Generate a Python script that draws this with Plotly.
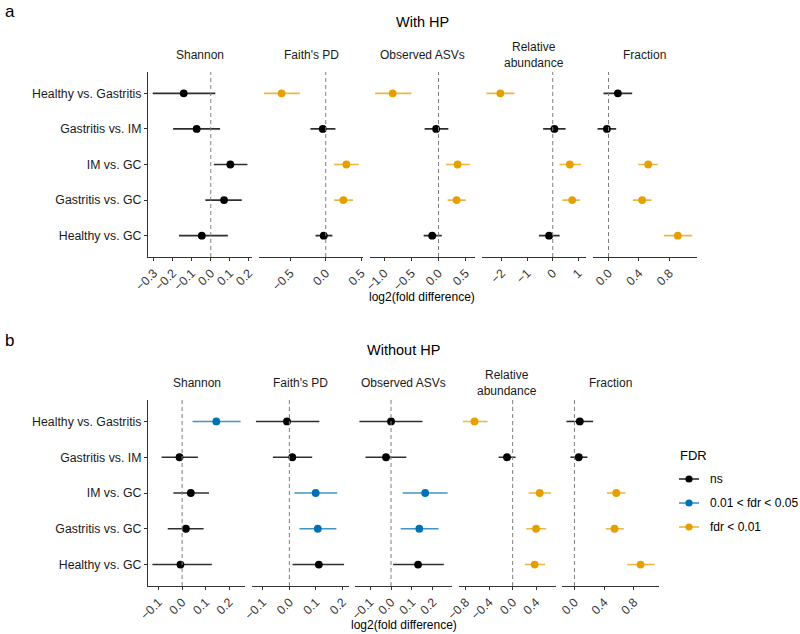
import plotly.graph_objects as go

W, H = 800, 634
FONT = "Liberation Sans, Arial, sans-serif"

# ---------------- data ----------------
comparisons = ["Healthy vs. Gastritis", "Gastritis vs. IM", "IM vs. GC",
               "Gastritis vs. GC", "Healthy vs. GC"]
metrics = ["Shannon", "Faith's PD", "Observed ASVs", "Relative<br>abundance", "Fraction"]
fdr_levels = ["ns", "0.01 < fdr < 0.05", "fdr < 0.01"]
fdr_colors = ["#000000", "#0072B2", "#E69F00"]
fdr_line_colors = ["rgba(0,0,0,0.82)", "rgba(0,114,178,0.75)", "rgba(230,159,0,0.75)"]

panel_titles = ["With HP", "Without HP"]
panel_letters = ["a", "b"]
x_title = "log2(fold difference)"

# Panel a: With HP  (rows = metrics, cols = comparisons)
a_est = [[-0.142, -0.074, 0.103, 0.070, -0.047],
         [-0.624, -0.042, 0.291, 0.249, -0.028],
         [-0.846, -0.043, 0.353, 0.335, -0.116],
         [-2.05, 0.066, 0.67, 0.763, -0.143],
         [0.123, -0.021, 0.521, 0.442, 0.91]]
a_lo = [[-0.305, -0.198, 0.016, -0.028, -0.167],
        [-0.873, -0.216, 0.117, 0.117, -0.145],
        [-1.17, -0.256, 0.14, 0.17, -0.274],
        [-2.6, -0.376, 0.26, 0.376, -0.54],
        [-0.066, -0.144, 0.39, 0.32, 0.726]]
a_hi = [[0.024, 0.049, 0.193, 0.163, 0.09],
        [-0.366, 0.137, 0.465, 0.385, 0.094],
        [-0.5, 0.183, 0.58, 0.506, 0.06],
        [-1.5, 0.504, 1.11, 1.06, 0.27],
        [0.311, 0.101, 0.648, 0.564, 1.1]]
a_fdr = [[0, 0, 0, 0, 0],
         [2, 0, 2, 2, 0],
         [2, 0, 2, 2, 0],
         [2, 0, 2, 2, 0],
         [0, 0, 2, 2, 2]]
a_ticks = [[-0.3, -0.2, -0.1, 0.0, 0.1, 0.2],
           [-0.5, 0.0, 0.5],
           [-1.0, -0.5, 0.0, 0.5],
           [-2, -1, 0, 1],
           [0.0, 0.4, 0.8]]
a_tickfmt = [".1f", ".1f", ".1f", "d", ".1f"]

# Panel b: Without HP
b_est = [[0.145, -0.011, 0.037, 0.016, -0.007],
         [-0.009, 0.011, 0.099, 0.107, 0.111],
         [0.0, -0.024, 0.163, 0.135, 0.129],
         [-0.65, -0.096, 0.462, 0.4, 0.376],
         [0.072, 0.058, 0.562, 0.539, 0.889]]
b_lo = [[0.044, -0.087, -0.037, -0.061, -0.126],
        [-0.126, -0.062, 0.019, 0.038, 0.012],
        [-0.151, -0.122, 0.055, 0.046, 0.01],
        [-0.848, -0.239, 0.274, 0.234, 0.212],
        [-0.108, -0.054, 0.436, 0.422, 0.71]]
b_hi = [[0.248, 0.067, 0.114, 0.091, 0.126],
        [0.113, 0.086, 0.18, 0.177, 0.206],
        [0.15, 0.073, 0.27, 0.227, 0.252],
        [-0.427, 0.051, 0.656, 0.571, 0.553],
        [0.252, 0.175, 0.687, 0.664, 1.078]]
b_fdr = [[1, 0, 0, 0, 0],
         [0, 0, 1, 1, 0],
         [0, 0, 1, 1, 0],
         [2, 0, 2, 2, 2],
         [0, 0, 2, 2, 2]]
b_ticks = [[-0.1, 0.0, 0.1, 0.2],
           [-0.1, 0.0, 0.1, 0.2],
           [-0.1, 0.0, 0.1, 0.2],
           [-0.8, -0.4, 0.0, 0.4],
           [0.0, 0.4, 0.8]]
b_tickfmt = [".1f", ".1f", ".1f", ".1f", ".1f"]

panels = [(a_est, a_lo, a_hi, a_fdr, a_ticks, a_tickfmt),
          (b_est, b_lo, b_hi, b_fdr, b_ticks, b_tickfmt)]

# ---------------- layout geometry (pixels) ----------------
panel_geom = [
    dict(x0=148, fw=104.2, gap=7.0, ytop=72, ybot=257, strip_y=54.5, title_y=22,
         letter_y=12, xtitle_y=297),
    dict(x0=148, fw=97.0, gap=6.5, ytop=400, ybot=586, strip_y=383, title_y=350,
         letter_y=340, xtitle_y=625),
]

def px(x):
    return x / W

def py(y):
    return 1 - y / H

fig = go.Figure()
layout = dict(template="none", width=W, height=H, autosize=False,
              margin=dict(l=0, r=0, t=0, b=0, pad=0, autoexpand=False),
              paper_bgcolor="white", plot_bgcolor="white", showlegend=False,
              font=dict(family=FONT, size=12, color="#000000"))
shapes, annotations = [], []
rows = list(range(1, len(comparisons) + 1))

ax_i = 0
for p, (est, lo, hi, fdr, ticks, fmts) in enumerate(panels):
    g = panel_geom[p]
    for m in range(len(metrics)):
        ax_i += 1
        xs = "" if ax_i == 1 else str(ax_i)
        xl0 = g["x0"] + m * (g["fw"] + g["gap"])
        xl1 = xl0 + g["fw"]
        # data range with 5% expansion (ggplot default), including zero line
        lo_v = min(min(lo[m]), 0.0)
        hi_v = max(max(hi[m]), 0.0)
        ex = 0.05 * (hi_v - lo_v)
        rng = [lo_v - ex, hi_v + ex]
        layout["xaxis" + xs] = dict(
            domain=[px(xl0), px(xl1)], anchor="y" + xs, range=rng, automargin=False,
            tickvals=ticks[m], tickformat=fmts[m], tickangle=-45,
            showline=True, linecolor="#333333", linewidth=1.1,
            ticks="outside", ticklen=3, tickwidth=1, tickcolor="#333333",
            tickfont=dict(family=FONT, size=12.3, color="#333333"),
            showgrid=False, zeroline=False, fixedrange=True)
        first = (m == 0)
        layout["yaxis" + xs] = dict(
            domain=[py(g["ybot"]), py(g["ytop"])], anchor="x" + xs, automargin=False,
            range=[len(comparisons) + 0.6, 0.4],
            tickvals=rows, ticktext=comparisons if first else [""] * len(rows),
            showticklabels=first, showline=first, linecolor="#333333", linewidth=1.1,
            ticks="outside" if first else "", ticklen=3, tickwidth=1, tickcolor="#333333",
            tickfont=dict(family=FONT, size=12.3, color="#1a1a1a"),
            showgrid=False, zeroline=False, fixedrange=True)
        # zero reference line
        shapes.append(dict(type="line", xref="x" + xs, yref="y" + xs + " domain",
                           x0=0, x1=0, y0=0, y1=1,
                           line=dict(color="#7f7f7f", width=1, dash="4px,3px")))
        # points grouped by FDR level
        for k in range(len(fdr_levels)):
            idx = [i for i in range(len(comparisons)) if fdr[m][i] == k]
            if not idx:
                continue
            fig.add_trace(go.Scatter(
                x=[est[m][i] for i in idx], y=[rows[i] for i in idx],
                xaxis="x" + xs, yaxis="y" + xs, mode="markers",
                marker=dict(color=fdr_colors[k], size=7.8, line=dict(width=0)),
                error_x=dict(type="data", symmetric=False,
                             array=[hi[m][i] - est[m][i] for i in idx],
                             arrayminus=[est[m][i] - lo[m][i] for i in idx],
                             color=fdr_line_colors[k], thickness=1.6, width=0),
                name=fdr_levels[k], hoverinfo="x+y"))
        # strip label
        annotations.append(dict(text=metrics[m], xref="paper", yref="paper",
                                x=px((xl0 + xl1) / 2), y=py(g["strip_y"]),
                                xanchor="center", yanchor="middle", showarrow=False,
                                font=dict(family=FONT, size=12, color="#1a1a1a")))
    xl_end = g["x0"] + len(metrics) * g["fw"] + (len(metrics) - 1) * g["gap"]
    cx = (g["x0"] + xl_end) / 2
    annotations.append(dict(text=panel_titles[p], xref="paper", yref="paper",
                            x=px(cx), y=py(g["title_y"]), xanchor="center",
                            yanchor="middle", showarrow=False,
                            font=dict(family=FONT, size=14.5, color="#000000")))
    annotations.append(dict(text=x_title, xref="paper", yref="paper",
                            x=px(cx), y=py(g["xtitle_y"]), xanchor="center",
                            yanchor="middle", showarrow=False,
                            font=dict(family=FONT, size=12, color="#000000")))
    annotations.append(dict(text=panel_letters[p], xref="paper", yref="paper",
                            x=px(3), y=py(g["letter_y"]), xanchor="left",
                            yanchor="middle", showarrow=False,
                            font=dict(family=FONT, size=17, color="#000000")))

# ---------------- legend (manual) ----------------
leg_x, leg_title_y, leg_y0, leg_dy = 678, 455, 479, 24
annotations.append(dict(text="FDR", xref="paper", yref="paper", x=px(leg_x),
                        y=py(leg_title_y), xanchor="left", yanchor="middle",
                        showarrow=False, font=dict(family=FONT, size=13, color="#000000")))
for k, lab in enumerate(fdr_levels):
    yy = leg_y0 + k * leg_dy
    shapes.append(dict(type="line", xref="paper", yref="paper",
                       x0=px(leg_x + 1), x1=px(leg_x + 21), y0=py(yy), y1=py(yy),
                       line=dict(color=fdr_line_colors[k], width=1.6)))
    r = 3.6
    shapes.append(dict(type="circle", xref="paper", yref="paper",
                       x0=px(leg_x + 11 - r), x1=px(leg_x + 11 + r),
                       y0=py(yy + r), y1=py(yy - r),
                       fillcolor=fdr_colors[k], line=dict(width=0)))
    annotations.append(dict(text=lab, xref="paper", yref="paper", x=px(leg_x + 30),
                            y=py(yy), xanchor="left", yanchor="middle", showarrow=False,
                            font=dict(family=FONT, size=12, color="#000000")))

layout["shapes"] = shapes
layout["annotations"] = annotations
fig.update_layout(**layout)
fig.write_html("out.html",
               config={"displayModeBar": False, "staticPlot": True},
               post_script="document.body.style.margin='0';document.body.style.overflow='hidden';")
